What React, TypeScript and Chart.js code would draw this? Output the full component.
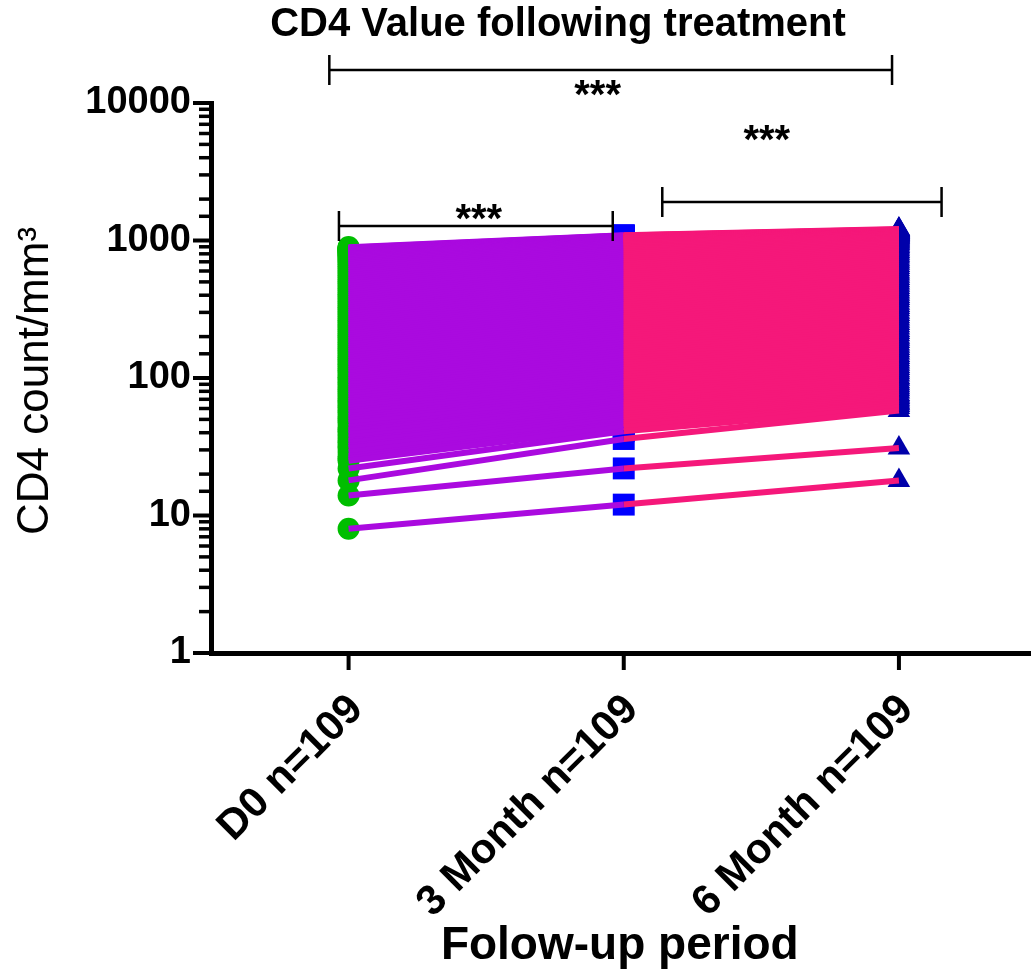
import React, { useEffect, useRef } from 'react';
import { Chart, registerables } from 'chart.js';

Chart.register(...registerables);

const categories = ['D0 n=109', '3 Month n=109', '6 Month n=109'];

const day0Counts = [
  8, 14, 18, 22,
  25, 26, 27, 29, 31, 32, 34, 35, 37, 39,
  41, 42, 44, 47, 49, 51, 53, 56, 58, 61,
  63, 66, 68, 71, 74, 77, 80, 83, 86, 90,
  93, 97, 101, 104, 109, 113, 117, 122, 126, 131,
  136, 141, 146, 152, 157, 163, 169, 176, 182, 189,
  196, 203, 211, 219, 226, 235, 243, 252, 262, 271,
  281, 292, 302, 313, 325, 337, 349, 362, 376, 390,
  404, 419, 434, 450, 467, 484, 502, 520, 540, 559,
  580, 601, 624, 646, 668, 690, 710, 728, 745, 762,
  777, 790, 802, 813, 823, 832, 840, 848, 855, 862,
  868, 874, 880, 886, 895,
];

const month3Counts = [
  12, 22, 36, 41,
  44, 46, 47, 49, 51, 53, 55, 57, 59, 62,
  64, 66, 69, 72, 75, 78, 81, 84, 87, 91,
  94, 98, 102, 106, 110, 115, 119, 124, 129, 134,
  139, 145, 150, 156, 162, 168, 175, 182, 189, 196,
  203, 211, 219, 227, 236, 245, 254, 264, 274, 284,
  295, 306, 317, 329, 341, 354, 367, 381, 395, 410,
  425, 441, 457, 474, 491, 509, 528, 547, 567, 588,
  609, 631, 654, 677, 701, 726, 751, 777, 803, 830,
  857, 880, 903, 925, 945, 962, 977, 990, 1001, 1011,
  1020, 1028, 1035, 1042, 1048, 1054, 1059, 1064, 1068, 1072,
  1076, 1080, 1083, 1087, 1092,
];

const month6Counts = [
  18, 31, 58, 61,
  63, 65, 66, 68, 70, 72, 74, 76, 79, 82,
  85, 88, 91, 94, 98, 101, 105, 109, 113, 117,
  121, 126, 131, 136, 141, 146, 152, 158, 164, 170,
  177, 184, 191, 198, 206, 214, 222, 231, 240, 249,
  259, 269, 279, 290, 301, 313, 325, 337, 350, 364,
  378, 392, 407, 423, 439, 456, 473, 491, 510, 529,
  549, 570, 591, 613, 636, 659, 683, 707, 732, 757,
  782, 807, 832, 857, 881, 905, 928, 950, 970, 989,
  1006, 1022, 1037, 1051, 1064, 1076, 1087, 1097, 1106, 1114,
  1122, 1129, 1136, 1142, 1148, 1154, 1160, 1166, 1172, 1178,
  1184, 1190, 1196, 1203, 1212,
];

// significance brackets (x in category units, y in CD4 units)
const bracketFrom = [-0.07, -0.035, 1.14];
const bracketTo = [1.975, 0.96, 2.155];
const bracketLevel = [17400, 1275, 1905];
const starText = ['***', '***', '***'];
const starAt = [0.905, 0.473, 1.52];
const starLevel = [12850, 1611, 6050];

const chartTitle = 'CD4 Value following treatment';
const yTitle = 'CD4 count/mm³';
const xTitle = 'Folow-up period';

const FONT = "'Liberation Sans', Arial, Helvetica, sans-serif";
const GREEN = '#00BE00';
const BLUE = '#0000FF';
const NAVY = '#0000AA';
const PURPLE = '#AA0ADF';
const PINK = '#F5187A';

if (typeof document !== 'undefined') {
  document.documentElement.style.overflow = 'hidden';
  document.body.style.margin = '0';
  document.body.style.overflow = 'hidden';
}

const overlay = {
  id: 'overlay',
  afterDraw(chart: any) {
    const ctx = chart.ctx as CanvasRenderingContext2D;
    const xs = chart.scales.x;
    const ys = chart.scales.y;
    ctx.save();
    ctx.strokeStyle = '#000';
    ctx.fillStyle = '#000';
    ctx.lineCap = 'butt';

    // y tick marks
    ys.ticks.forEach((t: any) => {
      const p = ys.getPixelForValue(t.value);
      const l = Math.log10(t.value);
      const major = Math.abs(l - Math.round(l)) < 1e-6;
      ctx.lineWidth = major ? 4 : 3.5;
      const len = major ? 18 : 12;
      ctx.beginPath();
      ctx.moveTo(ys.right, p);
      ctx.lineTo(ys.right - len, p);
      ctx.stroke();
    });

    // x tick marks
    xs.ticks.forEach((t: any) => {
      const p = xs.getPixelForValue(t.value);
      ctx.lineWidth = 4;
      ctx.beginPath();
      ctx.moveTo(p, xs.top);
      ctx.lineTo(p, xs.top + 17);
      ctx.stroke();
    });

    // brackets
    bracketFrom.forEach((from, i) => {
      const x1 = xs.getPixelForValue(from);
      const x2 = xs.getPixelForValue(bracketTo[i]);
      const y = ys.getPixelForValue(bracketLevel[i]);
      ctx.lineWidth = 2.5;
      ctx.beginPath();
      ctx.moveTo(x1, y);
      ctx.lineTo(x2, y);
      ctx.moveTo(x1, y - 15);
      ctx.lineTo(x1, y + 15);
      ctx.moveTo(x2, y - 15);
      ctx.lineTo(x2, y + 15);
      ctx.stroke();
      const sx = xs.getPixelForValue(starAt[i]);
      const sy = ys.getPixelForValue(starLevel[i]);
      ctx.font = `bold 40px ${FONT}`;
      ctx.textAlign = 'center';
      ctx.textBaseline = 'alphabetic';
      ctx.fillText(starText[i], sx, sy + 20);
    });

    // title
    ctx.font = `bold 40px ${FONT}`;
    ctx.textAlign = 'center';
    ctx.textBaseline = 'middle';
    ctx.fillText(chartTitle, 558, 25);

    // x title
    ctx.font = `bold 46px ${FONT}`;
    ctx.fillText(xTitle, xs.getPixelForValue(1) - 4, 946);

    // y title
    ctx.save();
    ctx.translate(36, 381);
    ctx.rotate(-Math.PI / 2);
    ctx.font = `44px ${FONT}`;
    ctx.fillText(yTitle, 0, 0);
    ctx.restore();

    ctx.restore();
  },
};

export default function App() {
  const ref = useRef<HTMLCanvasElement>(null);
  useEffect(() => {
    document.body.style.margin = '0';
    const canvas = ref.current;
    if (!canvas) return;

    const datasets: any[] = [];
    day0Counts.forEach((v, i) => {
      datasets.push({
        showLine: true,
        data: [{ x: 0, y: v }, { x: 1, y: month3Counts[i] }],
        borderColor: PURPLE,
        borderWidth: 6,
        pointRadius: 0,
        order: 2,
      });
    });
    month3Counts.forEach((v, i) => {
      datasets.push({
        showLine: true,
        data: [{ x: 1, y: v }, { x: 2, y: month6Counts[i] }],
        borderColor: PINK,
        borderWidth: 6,
        pointRadius: 0,
        order: 1,
      });
    });
    datasets.push({
      data: day0Counts.map((v) => ({ x: 0, y: v })),
      pointStyle: 'circle',
      pointRadius: 11,
      backgroundColor: GREEN,
      borderWidth: 0,
      order: 5,
    });
    datasets.push({
      data: month3Counts.map((v) => ({ x: 1, y: v })),
      pointStyle: 'rect',
      pointRadius: 15.5,
      backgroundColor: BLUE,
      borderWidth: 0,
      order: 5,
    });
    datasets.push({
      data: month6Counts.map((v) => ({ x: 2, y: v })),
      pointStyle: 'triangle',
      pointRadius: 13,
      backgroundColor: NAVY,
      borderWidth: 0,
      order: 5,
    });

    const chart = new Chart(canvas, {
      type: 'scatter',
      data: { datasets },
      options: {
        responsive: false,
        maintainAspectRatio: false,
        devicePixelRatio: 1,
        animation: false,
        events: [],
        layout: { autoPadding: false, padding: { top: 103, left: 0, right: 0, bottom: 0 } },
        plugins: { legend: { display: false }, title: { display: false }, tooltip: { enabled: false } },
        scales: {
          x: {
            type: 'linear',
            min: -0.5,
            max: 2.48,
            grid: { display: false, drawTicks: false },
            border: { display: true, color: '#000', width: 5 },
            afterBuildTicks: (scale: any) => {
              scale.ticks = categories.map((_, i) => ({ value: i }));
            },
            afterFit: (scale: any) => {
              scale.height = 323;
              scale.paddingLeft = 0;
              scale.paddingRight = 0;
            },
            ticks: {
              autoSkip: false,
              minRotation: 45,
              maxRotation: 45,
              padding: 32,
              labelOffset: 8,
              color: '#000',
              font: { family: FONT, size: 42, weight: 'bold' },
              callback: (_v: any, i: number) => categories[i],
            },
          },
          y: {
            type: 'logarithmic',
            min: 1,
            max: 10000,
            grid: { display: false, drawTicks: false },
            border: { display: true, color: '#000', width: 5 },
            afterFit: (scale: any) => {
              scale.width = 211;
              scale.paddingTop = 0;
              scale.paddingBottom = 0;
            },
            ticks: {
              autoSkip: false,
              padding: 20,
              color: '#000',
              font: { family: FONT, size: 38, weight: 'bold' },
              callback: (v: any) => {
                const l = Math.log10(Number(v));
                return Math.abs(l - Math.round(l)) < 1e-6 ? String(Math.round(Number(v))) : '';
              },
            },
          },
        },
      } as any,
      plugins: [overlay],
    });
    return () => chart.destroy();
  }, []);

  return (
    <div style={{ width: 1031, height: 976, background: '#fff', overflow: 'hidden' }}>
      <canvas ref={ref} width={1031} height={976} style={{ display: 'block' }} />
    </div>
  );
}
